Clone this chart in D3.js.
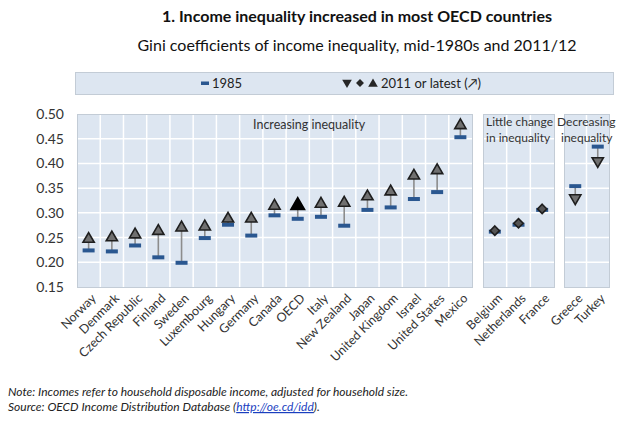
<!DOCTYPE html>
<html>
<head>
<meta charset="utf-8">
<script src="https://cdn.jsdelivr.net/npm/d3@7"></script>
<style>
  body { margin: 0; background: #fff; }
  svg { display: block; font-family: Lato, "Open Sans", sans-serif; }
</style>
</head>
<body>
<svg id="chart" width="630" height="423"></svg>
<script>
// ---- data ----
const countries = ["Norway","Denmark","Czech Republic","Finland","Sweden","Luxembourg","Hungary","Germany","Canada","OECD","Italy","New Zealand","Japan","United Kingdom","Israel","United States","Mexico","Belgium","Netherlands","France","Greece","Turkey"];
const gini1985 = [0.224,0.222,0.234,0.210,0.199,0.249,0.276,0.254,0.295,0.288,0.292,0.274,0.306,0.311,0.328,0.342,0.453,0.262,0.276,0.306,0.354,0.434];
const gini2011 = [0.247,0.250,0.256,0.263,0.270,0.272,0.288,0.288,0.314,0.315,0.318,0.320,0.333,0.343,0.375,0.386,0.477,0.262,0.277,0.306,0.330,0.405];
const groups = ["inc","inc","inc","inc","inc","inc","inc","inc","inc","inc","inc","inc","inc","inc","inc","inc","inc","little","little","little","dec","dec"];
const panelIds = ["inc","little","dec"];
const panelLabels = [["Increasing inequality"],["Little change","in inequality"],["Decreasing","inequality"]];
const yTicks = [0.15,0.20,0.25,0.30,0.35,0.40,0.45,0.50];

// ---- layout ----
const svg = d3.select("#chart");
const panelX = {inc:[77,472], little:[483,554], dec:[564,609]};
const plotTop = 114, plotBottom = 287;
const y = d3.scaleLinear().domain([0.15,0.50]).range([plotBottom, plotTop]);
const bg = "#dde6f1", border = "#c3ccd6", dashCol = "#2a5790", triDark = "#262626";

// titles
svg.append("text").attr("x",357).attr("y",22).attr("text-anchor","middle")
  .attr("font-size",16).attr("font-weight","bold").attr("fill","#111")
  .text("1. Income inequality increased in most OECD countries");
svg.append("text").attr("x",357).attr("y",51).attr("text-anchor","middle")
  .attr("font-size",16).attr("fill","#111")
  .text("Gini coefficients of income inequality, mid-1980s and 2011/12");

// legend
const sym = (type, size) => d3.symbol().type(type).size(size)();
const lg = svg.append("g");
lg.append("rect").attr("x",75.5).attr("y",72.5).attr("width",538).attr("height",22)
  .attr("fill",bg).attr("stroke",border);
lg.append("rect").attr("x",201).attr("y",81.5).attr("width",8).attr("height",3.5).attr("fill",dashCol);
lg.append("text").attr("x",212).attr("y",88).attr("font-size",13).attr("fill","#222").text("1985");
lg.append("path").attr("d",sym(d3.symbolTriangle,40)).attr("transform","translate(347,82.5) rotate(180)").attr("fill",triDark);
lg.append("path").attr("d",sym(d3.symbolDiamond2,40)).attr("transform","translate(360,83)").attr("fill",triDark);
lg.append("path").attr("d",sym(d3.symbolTriangle,40)).attr("transform","translate(373,84)").attr("fill",triDark);
lg.append("text").attr("x",381).attr("y",88).attr("font-size",13).attr("fill","#222").text("2011 or latest (\u2197)");

// y axis labels
const yAxis = d3.axisLeft(y).tickValues(yTicks).tickFormat(d3.format(".2f")).tickSize(0).tickPadding(13);
const yg = svg.append("g").attr("transform","translate(77,0)").call(yAxis);
yg.select(".domain").remove();
yg.selectAll("text").attr("font-size",14).attr("fill","#333").attr("font-family","Lato, sans-serif");

// panels
panelIds.forEach((pid, pi) => {
  const idx = countries.map((c,i)=>i).filter(i => groups[i] === pid);
  const cats = idx.map(i => countries[i]);
  const [x0,x1] = panelX[pid];
  const x = d3.scaleBand().domain(cats).range([x0,x1]).padding(0);
  const g = svg.append("g");
  g.append("rect").attr("x",x0+0.5).attr("y",plotTop+0.5).attr("width",x1-x0).attr("height",plotBottom-plotTop)
    .attr("fill",bg).attr("stroke",border);
  // grid
  g.selectAll(".hg").data(yTicks.slice(1,-1)).join("line")
    .attr("x1",x0+1).attr("x2",x1).attr("y1",d=>y(d)).attr("y2",d=>y(d))
    .attr("stroke","#fff").attr("stroke-width",1.5);
  g.selectAll(".vg").data(cats.slice(1)).join("line")
    .attr("x1",d=>x(d)).attr("x2",d=>x(d)).attr("y1",plotTop+1).attr("y2",plotBottom)
    .attr("stroke","#fff").attr("stroke-width",1.5);
  // panel labels
  const lbl = panelLabels[pi];
  lbl.forEach((t,k) => {
    let tx, ty, fs = 12.5;
    if (pid === "inc") { tx = 253; ty = 129; }
    else if (pid === "little") { tx = 486; ty = 126 + k*16; fs = 12; }
    else { tx = k===0 ? 557 : 561; ty = 126 + k*16; fs = 12; }
    g.append("text").attr("x",tx).attr("y",ty).attr("font-size",fs).attr("fill","#333").text(t);
  });
  // marks
  idx.forEach(i => {
    const cx = x(countries[i]) + x.bandwidth()/2;
    const y85 = y(gini1985[i]), y11 = y(gini2011[i]);
    if (Math.abs(y85 - y11) > 3) {
      g.append("line").attr("x1",cx).attr("x2",cx).attr("y1",y85).attr("y2",y11)
        .attr("stroke","#8c8c8c").attr("stroke-width",1.6);
    }
    g.append("rect").attr("x",cx-6).attr("y",y85-2).attr("width",12).attr("height",4)
      .attr("fill",dashCol);
    const isOECD = countries[i] === "OECD";
    if (pid === "inc") {
      g.append("path").attr("d",sym(d3.symbolTriangle, isOECD ? 80 : 55))
        .attr("transform",`translate(${cx},${y11})`)
        .attr("fill", isOECD ? "#000" : "#707070").attr("stroke", isOECD ? "#000" : "#1e1e1e").attr("stroke-width",1.6);
    } else if (pid === "little") {
      g.append("path").attr("d",sym(d3.symbolDiamond2,55))
        .attr("transform",`translate(${cx},${y11 - 1})`)
        .attr("fill","#555").attr("stroke","#1e1e1e").attr("stroke-width",1.6);
    } else {
      g.append("path").attr("d",sym(d3.symbolTriangle,55))
        .attr("transform",`translate(${cx},${y11}) rotate(180)`)
        .attr("fill","#707070").attr("stroke","#1e1e1e").attr("stroke-width",1.6);
    }
  });
  // x labels
  g.selectAll(".xl").data(cats).join("text")
    .attr("transform", d => `translate(${x(d)+x.bandwidth()/2+5},${plotBottom+9}) rotate(-45)`)
    .attr("text-anchor","end").attr("dy","0.35em")
    .attr("font-size",12.5).attr("fill","#333").text(d=>d);
});

// notes
svg.append("text").attr("x",8).attr("y",396).attr("font-size",12).attr("font-style","italic").attr("fill","#222")
  .text("Note: Incomes refer to household disposable income, adjusted for household size.");
const src = svg.append("text").attr("x",8).attr("y",411).attr("font-size",12).attr("font-style","italic").attr("fill","#222");
src.append("tspan").text("Source: OECD Income Distribution Database (");
src.append("tspan").attr("fill","#1a3fbf").attr("text-decoration","underline").text("http://oe.cd/idd");
src.append("tspan").text(").");
</script>
</body>
</html>
